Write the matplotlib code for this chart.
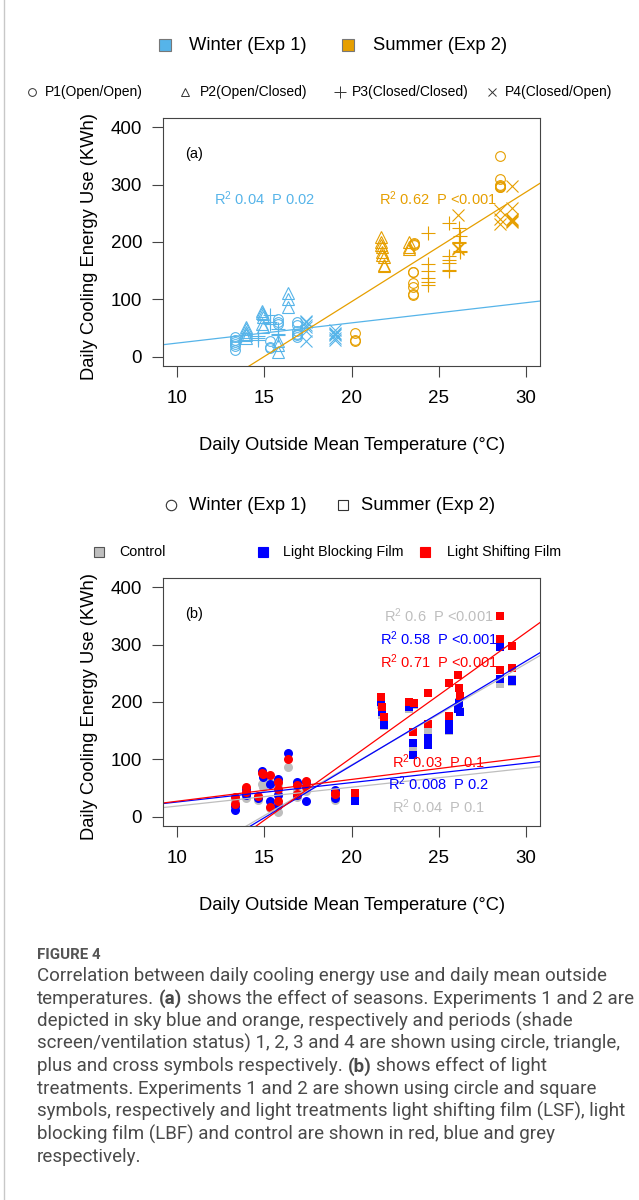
import numpy as np
import matplotlib
matplotlib.use('Agg')
import matplotlib.pyplot as plt
from matplotlib.lines import Line2D

plt.rcParams['font.family'] = ['Liberation Sans', 'DejaVu Sans']
plt.rcParams['mathtext.fontset'] = 'custom'
plt.rcParams['mathtext.rm'] = 'Liberation Sans'
plt.rcParams['mathtext.default'] = 'regular'

# winter (exp 1) days: temperature, period, energy per treatment
winter_temp = [13.3, 13.3, 13.95, 13.95, 14.65, 14.9, 14.95, 15.35, 15.35, 15.8,
               15.8, 15.8, 16.35, 16.85, 16.85, 17.4, 17.4, 19.05, 19.05]
winter_period = [1, 1, 2, 2, 3, 2, 2, 3, 1, 1, 2, 3, 2, 1, 1, 4, 4, 4, 4]
winter_ctrl = [25, 30, 32, 40, 30, 58, 52, 60, 15, 58, 8, 40, 87, 45, 35, 45, 55, 30, 38]
winter_lbf = [12, 18, 38, 48, 33, 80, 70, 58, 27, 66, 20, 38, 111, 61, 38, 27, 60, 32, 47]
winter_lsf = [22, 34, 43, 52, 36, 76, 74, 72, 17, 60, 28, 48, 101, 55, 40, 52, 62, 42, 40]

# summer (exp 2) days
summer_temp = [20.2, 21.7, 21.75, 21.85, 23.3, 23.6, 23.5, 23.5, 24.4, 24.4,
               25.6, 25.6, 26.1, 26.15, 26.2, 28.5, 28.5, 28.5, 29.2, 29.2]
summer_period = [1, 2, 2, 2, 2, 1, 1, 1, 3, 3, 3, 3, 4, 3, 3, 1, 1, 4, 4, 4]
summer_ctrl = [30, 195, 178, 158, 188, 195, 122, 110, 150, 130, 168, 150, 190, 200, 185, 300, 295, 232, 235, 240]
summer_lbf = [28, 200, 182, 160, 192, 196, 128, 108, 138, 125, 164, 152, 188, 198, 183, 298, 296, 240, 238, 236]
summer_lsf = [42, 209, 191, 174, 200, 198, 148, 148, 216, 162, 233, 176, 247, 225, 210, 350, 310, 255, 260, 298]

# regression lines (intercept, slope)
fit_a = {'winter': (-11.3, 3.52), 'summer': (-286.0, 19.1)}
fit_b_winter = {'ctrl': (-14.2, 3.29), 'lbf': (-8.0, 3.38), 'lsf': (-10.9, 3.8)}
fit_b_summer = {'ctrl': (-262.7, 17.65), 'lbf': (-274.7, 18.2), 'lsf': (-333.0, 21.8)}

stats_a = {'winter': 'R$^2$ 0.04  P 0.02', 'summer': 'R$^2$ 0.62  P <0.001'}
stats_b = [('ctrl', 'R$^2$ 0.6  P <0.001', 351), ('lbf', 'R$^2$ 0.58  P <0.001', 310),
           ('lsf', 'R$^2$ 0.71  P <0.001', 271), ('lsf', 'R$^2$ 0.03  P 0.1', 96),
           ('lbf', 'R$^2$ 0.008  P 0.2', 58), ('ctrl', 'R$^2$ 0.04  P 0.1', 17)]

season_col = {'winter': '#56B4E9', 'summer': '#E69F00'}
treat_col = {'ctrl': '#BEBEBE', 'lbf': '#0000FF', 'lsf': '#FF0000'}
period_marker = {1: 'o', 2: '^', 3: '+', 4: 'x'}
period_size = {1: 7, 2: 8, 3: 10, 4: 8}

W, H = 639, 1200
fig = plt.figure(figsize=(W / 100, H / 100), dpi=100)


def fx(px):
    return px / W


def fy(py):
    return 1 - py / H


def setup(ax, label):
    ax.set_xlim(9.2, 30.8)
    ax.set_ylim(-16, 416)
    ax.set_xticks([10, 15, 20, 25, 30])
    ax.set_yticks([0, 100, 200, 300, 400])
    ax.tick_params(direction='out', length=8, width=0.8, labelsize=13.5, color='#444444')
    ax.tick_params(axis='x', pad=9)
    ax.tick_params(axis='y', pad=7)
    for s in ax.spines.values():
        s.set_linewidth(0.8)
        s.set_color('#444444')
    ax.text(10.98, 353, label, fontsize=10.5, ha='center', va='center')


def axis_labels(top):
    fig.text(fx(89), fy(top + 129), 'Daily Cooling Energy Use (KWh)', rotation=90,
             fontsize=13.2, ha='center', va='center')
    fig.text(fx(352), fy(top + 328), 'Daily Outside Mean Temperature (\u00b0C)',
             fontsize=13.2, ha='center', va='center')


xs = np.array([9.2, 30.8])

# ---- panel (a)
ax_a = fig.add_axes([fx(163), fy(366), fx(377), 248 / H])
setup(ax_a, '(a)')
for season, temp, per, c, l, s in [
        ('winter', winter_temp, winter_period, winter_ctrl, winter_lbf, winter_lsf),
        ('summer', summer_temp, summer_period, summer_ctrl, summer_lbf, summer_lsf)]:
    temp = np.array(temp)
    per = np.array(per)
    for p, m in period_marker.items():
        k = per == p
        if not k.any():
            continue
        x = np.tile(temp[k], 3)
        y = np.concatenate([np.array(c)[k], np.array(l)[k], np.array(s)[k]])
        ax_a.plot(x, y, ls='none', marker=m, mfc='none', mec=season_col[season],
                  ms=period_size[p], mew=0.8)
    b0, b1 = fit_a[season]
    ax_a.plot(xs, b0 + b1 * xs, color=season_col[season], lw=0.9)
ax_a.text(15.0, 275, stats_a['winter'], color=season_col['winter'], fontsize=10.5,
          ha='center', va='center')
ax_a.text(24.95, 275, stats_a['summer'], color=season_col['summer'], fontsize=10.5,
          ha='center', va='center')
axis_labels(118)

# legend rows (a)
for px_, col, txt, tx in [(165, season_col['winter'], 'Winter (Exp 1)', 189),
                          (348, season_col['summer'], 'Summer (Exp 2)', 373)]:
    fig.add_artist(Line2D([fx(px_)], [fy(45)], marker='s', ms=9, mfc=col, mec='#777777',
                          mew=0.8, ls='none', transform=fig.transFigure))
    fig.text(fx(tx), fy(45), txt, fontsize=13.2, va='center', ha='left')
for p, px_, tx, txt in [(1, 32, 45, 'P1(Open/Open)'), (2, 185, 200, 'P2(Open/Closed)'),
                        (3, 340, 352, 'P3(Closed/Closed)'), (4, 492, 505, 'P4(Closed/Open)')]:
    fig.add_artist(Line2D([fx(px_)], [fy(92)], marker=period_marker[p],
                          ms=period_size[p] * 0.8, mfc='none',
                          mec='#333333', mew=0.7, ls='none', transform=fig.transFigure))
    fig.text(fx(tx), fy(92), txt, fontsize=10, va='center', ha='left')

# ---- panel (b)
ax_b = fig.add_axes([fx(163), fy(826), fx(377), 248 / H])
setup(ax_b, '(b)')
for key, wv, sv in [('ctrl', winter_ctrl, summer_ctrl), ('lbf', winter_lbf, summer_lbf),
                    ('lsf', winter_lsf, summer_lsf)]:
    ax_b.plot(winter_temp, wv, ls='none', marker='o', ms=6.5, mfc=treat_col[key],
              mec=treat_col[key], mew=0)
    ax_b.plot(summer_temp, sv, ls='none', marker='s', ms=6, mfc=treat_col[key],
              mec=treat_col[key], mew=0)
for key in ['ctrl', 'lbf', 'lsf']:
    b0, b1 = fit_b_winter[key]
    ax_b.plot(xs, b0 + b1 * xs, color=treat_col[key], lw=0.9)
    b0, b1 = fit_b_summer[key]
    ax_b.plot(xs, b0 + b1 * xs, color=treat_col[key], lw=0.9)
for key, txt, yv in stats_b:
    ax_b.text(25.0, yv, txt, color=treat_col[key], fontsize=10.5, ha='center', va='center')
axis_labels(578)

# legend rows (b)
for m, px_, tx, txt in [('o', 171, 189, 'Winter (Exp 1)'), ('s', 343, 361, 'Summer (Exp 2)')]:
    fig.add_artist(Line2D([fx(px_)], [fy(505)], marker=m, ms=7.5 if m == 'o' else 6.5,
                          mfc='none', mec='#333333', mew=0.8, ls='none',
                          transform=fig.transFigure))
    fig.text(fx(tx), fy(505), txt, fontsize=13.2, va='center', ha='left')
for key, px_, tx, txt in [('ctrl', 99, 119, 'Control'), ('lbf', 263, 283, 'Light Blocking Film'),
                          ('lsf', 425, 447, 'Light Shifting Film')]:
    fig.add_artist(Line2D([fx(px_)], [fy(552)], marker='s', ms=7, mfc=treat_col[key],
                          mec='#555555' if key == 'ctrl' else treat_col[key], mew=0.8,
                          ls='none', transform=fig.transFigure))
    fig.text(fx(tx), fy(552), txt, fontsize=10.3, va='center', ha='left')

# page border on the left
fig.add_artist(Line2D([fx(4), fx(4)], [0, 1], color='#c8c8c8', lw=1, transform=fig.transFigure))

# ---- caption
caption = [
    [('Correlation between daily cooling energy use and daily mean outside', False)],
    [('temperatures.', False), ('(a)', True), ('shows the effect of seasons. Experiments 1 and 2 are', False)],
    [('depicted in sky blue and orange, respectively and periods (shade', False)],
    [('screen/ventilation status) 1, 2, 3 and 4 are shown using circle, triangle,', False)],
    [('plus and cross symbols respectively.', False), ('(b)', True), ('shows effect of light', False)],
    [('treatments. Experiments 1 and 2 are shown using circle and square', False)],
    [('symbols, respectively and light treatments light shifting film (LSF), light', False)],
    [('blocking film (LBF) and control are shown in red, blue and grey', False)],
    [('respectively.', False)],
]
cap_font = ['Roboto', 'DejaVu Sans']
renderer = fig.canvas.get_renderer()


def line_width(line, size, space):
    total = 0
    for seg, bold in line:
        t = fig.text(0, 0, seg, fontsize=size, family=cap_font,
                     fontweight='bold' if bold else 'normal')
        total += t.get_window_extent(renderer).width
        t.remove()
    return total + space * (len(line) - 1)


p1 = fig.text(0, 0, 'x x', fontsize=12, family=cap_font)
p2 = fig.text(0, 0, 'xx', fontsize=12, family=cap_font)
space12 = p1.get_window_extent(renderer).width - p2.get_window_extent(renderer).width
p1.remove()
p2.remove()
# fit the caption size to the widths of the first two lines in the reference
scale = min(586 / line_width(caption[0], 12, space12), 596 / line_width(caption[1], 12, space12))
cap_size = 12 * scale
space_w = space12 * scale

fig.text(fx(37), fy(955), 'FIGURE 4', fontsize=cap_size * 0.8, fontweight='bold',
         family=cap_font, color='#555555', va='center', ha='left')
for i, line in enumerate(caption):
    y = fy(976 + i * 22.6)
    x_px = 37
    for seg, bold in line:
        t = fig.text(fx(x_px), y, seg, fontsize=cap_size, family=cap_font,
                     fontweight='bold' if bold else 'normal', color='#4a4a4a',
                     va='center', ha='left')
        bb = t.get_window_extent(renderer)
        x_px = bb.x1 + space_w

fig.savefig('out.png', dpi=100)
